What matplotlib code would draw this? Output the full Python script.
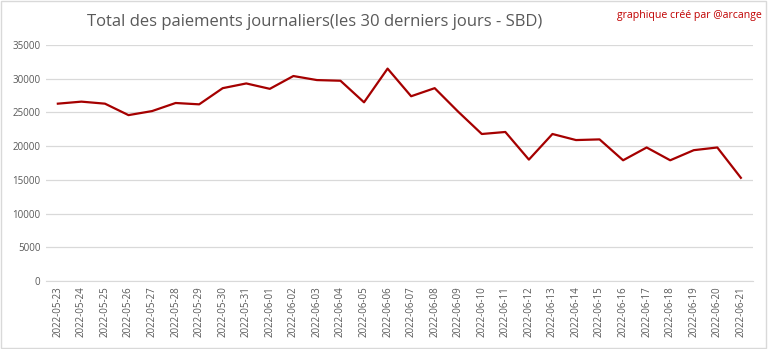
import matplotlib

matplotlib.use("Agg")
import matplotlib.pyplot as plt
from matplotlib.patches import Rectangle

# Daily payouts over the last 30 days (SBD)
dates = [
    "2022-05-23", "2022-05-24", "2022-05-25", "2022-05-26", "2022-05-27",
    "2022-05-28", "2022-05-29", "2022-05-30", "2022-05-31", "2022-06-01",
    "2022-06-02", "2022-06-03", "2022-06-04", "2022-06-05", "2022-06-06",
    "2022-06-07", "2022-06-08", "2022-06-09", "2022-06-10", "2022-06-11",
    "2022-06-12", "2022-06-13", "2022-06-14", "2022-06-15", "2022-06-16",
    "2022-06-17", "2022-06-18", "2022-06-19", "2022-06-20", "2022-06-21",
]
payouts = [
    26300, 26600, 26300, 24600, 25200, 26400, 26200, 28600, 29300, 28500,
    30400, 29800, 29700, 26500, 31500, 27400, 28600, 25100, 21800, 22100,
    18000, 21800, 20900, 21000, 17900, 19800, 17900, 19400, 19800, 15300,
]
y_ticks = [0, 5000, 10000, 15000, 20000, 25000, 30000, 35000]

plt.rcParams["font.family"] = ["Open Sans", "DejaVu Sans"]

fig = plt.figure(figsize=(7.68, 3.49), dpi=100)
ax = fig.add_axes([0.06, 0.195, 0.92, 0.676])

x = range(len(dates))
ax.plot(x, payouts, color="#A50000", linewidth=1.6)

ax.set_xlim(-0.5, len(dates) - 0.5)
ax.set_ylim(0, 35000)
ax.set_yticks(y_ticks)
ax.set_yticklabels([str(v) for v in y_ticks], fontsize=7, color="#595959")
ax.set_xticks(list(x))
ax.set_xticklabels(dates, rotation=90, fontsize=7, color="#595959")
ax.tick_params(length=0, pad=4)

ax.grid(axis="y", color="#d9d9d9", linewidth=0.9)
ax.set_axisbelow(True)
for side in ["top", "right", "left"]:
    ax.spines[side].set_visible(False)
ax.spines["bottom"].set_color("#d9d9d9")

fig.text(0.41, 0.937, "Total des paiements journaliers(les 30 derniers jours - SBD)",
         ha="center", va="center", fontsize=12, color="#595959")
fig.text(0.992, 0.955, "graphique créé par @arcange", ha="right", va="center",
         fontsize=7.6, color="#C00000")

# light chart border
fig.patches.append(Rectangle((0.001, 0.002), 0.997, 0.995, transform=fig.transFigure,
                             fill=False, edgecolor="#d9d9d9", linewidth=1))

fig.savefig("out.png", facecolor="white")
plt.close(fig)
